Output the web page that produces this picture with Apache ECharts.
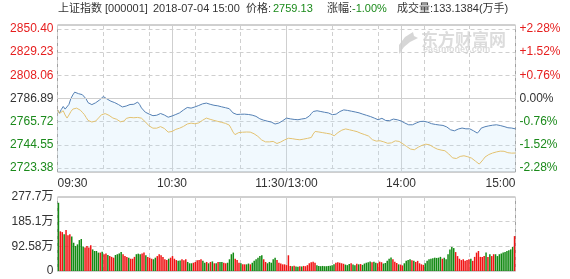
<!DOCTYPE html>
<html><head><meta charset="utf-8">
<script src="https://cdn.jsdelivr.net/npm/echarts@6/dist/echarts.min.js"></script>
<style>html,body{margin:0;padding:0;background:#fff}#c{width:570px;height:279px}</style>
</head><body><div id="c"></div>
<script>
const prevClose = 2786.89;
const priceTicks = [2723.38, 2744.55, 2765.72, 2786.89, 2808.06, 2829.23, 2850.40];
const volTicks = [0, 92.58, 185.1, 277.7];
const timeLabels = ['09:30', '10:30', '11:30/13:00', '14:00', '15:00'];

const price = [
2776.6,2773.6,2776.9,2779.6,2777.2,2775.9,2781.5,2786.8,2790.1,2792.7,
2792.1,2791.3,2790.8,2790.4,2789.8,2786.5,2783.1,2781.6,2781.3,2782.2,
2783.0,2784.4,2785.5,2787.2,2788.7,2787.6,2786.4,2785.5,2784.4,2783.6,
2783.1,2782.6,2781.3,2780.1,2779.2,2778.7,2780.0,2781.7,2781.4,2781.0,
2781.6,2782.7,2783.6,2781.5,2778.3,2776.5,2774.4,2773.2,2772.7,2772.1,
2771.2,2770.5,2771.6,2772.6,2773.2,2773.5,2771.8,2770.7,2769.8,2769.0,
2770.9,2772.1,2772.3,2772.6,2773.8,2775.0,2776.4,2778.1,2778.7,2778.4,
2778.1,2778.6,2779.2,2779.6,2780.5,2781.4,2782.0,2782.4,2782.7,2782.2,
2781.6,2781.0,2780.7,2780.5,2780.2,2779.7,2779.3,2778.9,2778.5,2778.1,
2777.6,2775.8,2773.7,2772.0,2772.3,2772.6,2772.5,2772.7,2772.6,2772.4,
2772.3,2772.1,2771.7,2771.2,2770.6,2769.6,2768.4,2767.5,2767.1,2766.6,
2766.2,2765.8,2765.4,2764.5,2763.6,2762.9,2764.5,2765.8,2766.6,2767.4,
2769.0,2768.6,2768.3,2768.1,2767.8,2767.6,2767.5,2767.9,2768.2,2768.5,
2768.7,2769.0,2770.9,2773.1,2775.0,2775.5,2775.7,2775.4,2775.0,2774.5,
2774.3,2774.0,2773.7,2773.0,2772.1,2771.4,2772.6,2774.0,2775.0,2775.8,
2776.5,2776.4,2776.0,2775.7,2775.3,2775.0,2774.6,2774.3,2773.8,2773.2,
2772.6,2772.1,2771.5,2771.0,2770.4,2769.8,2769.0,2768.3,2767.5,2768.1,
2768.8,2767.9,2766.8,2765.9,2766.7,2767.6,2768.1,2767.8,2767.5,2767.0,
2766.4,2765.8,2764.5,2763.3,2762.9,2762.8,2762.9,2763.6,2764.5,2765.3,
2765.9,2766.4,2766.1,2765.7,2765.3,2764.6,2763.9,2763.5,2763.2,2762.9,
2762.7,2762.5,2762.3,2761.6,2760.9,2759.8,2758.3,2756.9,2757.4,2758.3,
2759.0,2759.6,2759.9,2759.5,2759.2,2759.1,2759.2,2758.9,2757.4,2755.9,
2755.3,2757.2,2759.8,2760.4,2761.1,2761.5,2761.9,2762.3,2762.5,2762.7,
2762.9,2762.6,2762.2,2761.8,2761.3,2760.5,2760.2,2760.0,2759.9,2759.6,
2759.13];

const leadLine = [
2776.6,2773.2,2774.1,2775.7,2771.8,2769.0,2771.8,2774.9,2777.2,2778.7,
2778.1,2777.3,2776.2,2774.3,2772.4,2769.6,2766.9,2765.8,2765.4,2765.8,
2766.3,2767.8,2770.0,2772.0,2773.6,2773.1,2772.4,2771.5,2770.3,2769.1,
2768.4,2767.9,2767.3,2765.6,2764.6,2766.4,2768.7,2769.4,2769.6,2769.6,
2769.3,2769.0,2769.6,2770.4,2768.9,2767.3,2765.6,2763.8,2761.9,2760.7,
2759.8,2759.2,2759.8,2760.5,2761.2,2760.7,2759.5,2758.3,2756.2,2754.7,
2756.8,2758.4,2758.7,2759.0,2759.8,2760.6,2761.4,2762.6,2763.6,2764.0,
2764.4,2764.2,2763.8,2763.5,2764.6,2766.0,2767.0,2768.1,2769.0,2768.4,
2767.9,2767.4,2766.9,2766.4,2766.0,2765.6,2765.1,2764.7,2764.2,2763.4,
2762.6,2759.6,2756.2,2753.9,2755.0,2755.8,2756.0,2756.1,2756.2,2756.3,
2756.2,2756.2,2755.8,2754.7,2753.5,2752.3,2750.6,2749.0,2747.7,2747.3,
2747.1,2747.3,2747.5,2747.7,2746.8,2745.8,2745.6,2747.2,2748.2,2749.1,
2750.8,2750.6,2750.4,2750.2,2749.9,2749.6,2749.3,2749.2,2749.5,2749.8,
2750.1,2750.5,2751.0,2751.3,2754.5,2756.8,2756.6,2756.3,2756.0,2755.7,
2755.4,2755.1,2754.9,2754.5,2753.6,2752.9,2754.4,2755.8,2756.8,2758.0,
2759.0,2759.1,2758.7,2758.3,2757.9,2757.5,2757.1,2756.6,2755.9,2755.1,
2754.5,2753.9,2753.2,2752.6,2751.0,2749.3,2747.9,2748.0,2748.2,2748.3,
2747.8,2747.3,2746.7,2746.0,2745.3,2746.4,2747.6,2748.2,2747.9,2747.7,
2746.6,2745.5,2744.4,2743.0,2741.6,2740.7,2740.4,2740.1,2741.2,2742.4,
2743.1,2744.1,2745.1,2745.2,2744.9,2744.6,2743.6,2742.4,2741.4,2740.7,
2740.1,2739.8,2739.5,2739.2,2737.9,2736.3,2734.6,2732.7,2731.1,2732.1,
2733.3,2734.0,2734.3,2734.6,2734.2,2733.7,2733.1,2732.4,2731.4,2729.7,
2728.2,2727.0,2728.8,2731.0,2733.4,2734.6,2735.7,2736.5,2737.1,2737.6,
2738.1,2738.5,2738.8,2739.2,2738.7,2738.0,2737.4,2737.1,2737.0,2737.1,
2737.1];

const volume = [
256,149,146,138,154,134,138,129,106,94,
100,116,120,92,88,94,88,97,81,75,
75,69,69,72,63,66,60,56,53,50,
60,63,66,71,63,56,53,50,46,46,
53,63,65,63,66,69,59,53,50,46,
44,50,56,63,59,53,44,41,46,50,
56,46,41,38,39,44,40,44,34,29,
29,31,34,40,41,44,38,31,34,29,
34,36,29,29,34,34,34,31,29,31,
44,63,69,46,41,31,29,25,25,25,
28,25,31,38,44,50,56,59,44,34,
29,34,31,44,50,41,31,28,25,25,
22,59,19,18,20,17,16,18,17,19,
18,22,29,33,35,31,22,19,18,19,
18,18,19,20,22,25,31,33,31,29,
27,24,22,26,29,24,22,27,25,26,
23,28,31,33,36,33,35,31,29,35,
33,28,30,38,46,51,44,35,30,25,
24,21,29,38,41,44,40,38,34,38,
29,25,23,29,38,44,46,48,50,49,
50,53,46,50,44,63,81,90,86,71,
56,46,41,44,38,41,44,46,38,53,
69,75,53,53,56,69,53,63,56,63,
63,56,63,66,69,71,75,78,81,90,
131];

const volUp = [
0,1,1,0,1,1,1,0,0,0,
0,0,0,0,1,1,1,1,0,0,
0,0,1,0,1,1,0,1,1,1,
0,0,0,0,1,1,1,0,1,1,
1,0,0,0,1,1,0,1,1,1,
0,0,1,1,1,1,1,1,0,1,
1,1,1,0,0,1,1,1,0,0,
0,1,1,1,1,1,0,0,1,0,
1,0,1,0,1,0,0,1,1,0,
0,0,0,1,1,1,0,1,1,0,
0,1,0,0,0,0,0,0,1,1,
0,0,0,0,0,1,1,1,1,1,
1,1,1,0,1,0,0,1,0,1,
1,1,1,1,1,1,0,0,0,0,
0,0,0,0,0,0,1,1,1,1,
1,0,0,0,1,0,0,1,0,1,
0,0,0,0,0,1,0,0,1,1,
1,0,0,0,0,0,1,1,1,0,
1,1,0,0,0,0,1,0,1,1,
1,1,1,0,0,0,0,0,0,0,
0,0,1,0,0,0,0,0,0,1,
1,1,1,1,1,1,1,0,1,1,
1,1,1,1,1,0,1,0,1,1,
0,0,0,0,0,0,0,0,0,0,
1];

function pad2(n) { return (n < 10 ? '0' : '') + n; }
const times = [];
for (let t = 9 * 60 + 30; t <= 11 * 60 + 30; t++) times.push(pad2(Math.floor(t / 60)) + ':' + pad2(t % 60));
for (let t = 13 * 60 + 1; t <= 15 * 60; t++) times.push(pad2(Math.floor(t / 60)) + ':' + pad2(t % 60));

const RED = '#e61e1e', GREEN = '#1b8a1b', TXT = '#333';
const FONT = '"Liberation Sans", Arial, "Noto Sans CJK SC", sans-serif';
const pmin = priceTicks[0] - 3.6, pmax = priceTicks[priceTicks.length - 1] + 3.6;
const dashed = { color: '#cfcfcf', type: [4, 3], width: 1 };
const solid = { color: '#cfcfcf', type: 'solid', width: 1 };

function catAxis(grid, extra) {
  return Object.assign({
    type: 'category', gridIndex: grid, data: times, boundaryGap: false,
    axisLine: { show: false }, axisTick: { show: false }, axisLabel: { show: false },
    splitLine: { show: false }
  }, extra);
}

const chart = echarts.init(document.getElementById('c'), null, { renderer: 'canvas' });
chart.setOption({
  animation: false,
  textStyle: { fontFamily: FONT },
  grid: [
    { left: 57.5, right: 54.5, top: 25, height: 147, show: true, borderColor: '#a0a0a0', borderWidth: 1, backgroundColor: 'transparent', outerBoundsMode: 'none' },
    { left: 57.5, right: 54.5, top: 197, height: 74, show: true, borderColor: '#a0a0a0', borderWidth: 1, backgroundColor: 'transparent', outerBoundsMode: 'none' }
  ],
  xAxis: [
    catAxis(0, {
      position: 'bottom',
      axisLabel: {
        show: true, interval: (i) => i % 60 === 0, margin: 6, fontSize: 12, color: TXT, fontFamily: FONT,
        formatter: (v, i) => timeLabels[i / 60], alignMinLabel: 'left', alignMaxLabel: 'right'
      },
      splitLine: { show: true, interval: (i) => i % 24 === 0, lineStyle: dashed }
    }),
    catAxis(0, { position: 'top', splitLine: { show: true, interval: (i) => i % 60 === 0 && i > 0 && i < 240, lineStyle: solid } }),
    catAxis(1, { position: 'bottom', boundaryGap: true }),
    catAxis(1, { position: 'bottom', splitLine: { show: true, interval: (i) => i % 24 === 0, lineStyle: dashed } }),
    catAxis(1, { position: 'top', splitLine: { show: true, interval: (i) => i % 60 === 0 && i > 0 && i < 240, lineStyle: solid } })
  ],
  yAxis: [
    {
      type: 'value', gridIndex: 0, min: pmin, max: pmax, position: 'left',
      axisLine: { show: false }, axisTick: { show: false, customValues: priceTicks },
      axisLabel: {
        customValues: priceTicks, margin: 4, fontSize: 12, fontFamily: FONT,
        formatter: (v) => Number(v).toFixed(2),
        color: (v) => { v = parseFloat(v); return v > prevClose + 0.001 ? RED : (v < prevClose - 0.001 ? GREEN : TXT); }
      },
      splitLine: { show: true, lineStyle: dashed }
    },
    {
      type: 'value', gridIndex: 0, min: pmin, max: pmax, position: 'right',
      axisLine: { show: false }, axisTick: { show: false, customValues: priceTicks },
      axisLabel: {
        customValues: priceTicks, margin: 4, fontSize: 12, fontFamily: FONT,
        formatter: (v) => { const p = (Number(v) / prevClose - 1) * 100; const s = p.toFixed(2); return (p > 0.001 ? '+' : '') + (Math.abs(p) < 0.001 ? '0.00' : s) + '%'; },
        color: (v) => { v = parseFloat(v); return v > prevClose + 0.001 ? RED : (v < prevClose - 0.001 ? GREEN : TXT); }
      },
      splitLine: { show: false }
    },
    {
      type: 'value', gridIndex: 1, min: 0, max: volTicks[volTicks.length - 1], position: 'left',
      axisLine: { show: false }, axisTick: { show: false, customValues: volTicks },
      axisLabel: {
        customValues: volTicks, margin: 4, fontSize: 12, color: TXT, fontFamily: FONT,
        formatter: (v) => Number(v) === 0 ? '0' : v + '万'
      },
      splitLine: { show: true, lineStyle: dashed }
    }
  ],
  series: [
    {
      type: 'line', xAxisIndex: 0, yAxisIndex: 0, data: price, symbol: 'none', silent: true,
      lineStyle: { color: '#5580b4', width: 1 },
      areaStyle: { color: 'rgba(190,225,250,0.3)', origin: 'start' },
      markLine: {
        silent: true, symbol: 'none', label: { show: false },
        lineStyle: { color: '#cfcfcf', type: 'solid', width: 1 },
        data: [{ yAxis: prevClose }]
      },
      z: 3
    },
    {
      type: 'line', xAxisIndex: 0, yAxisIndex: 0, data: leadLine, symbol: 'none', silent: true,
      lineStyle: { color: '#e3c271', width: 1 }, z: 4
    },
    {
      type: 'bar', xAxisIndex: 2, yAxisIndex: 2, barWidth: 1.5, silent: true,
      data: volume.map((v, i) => ({ value: v, itemStyle: { color: volUp[i] ? '#f01414' : '#138a13' } }))
    }
  ],
  graphic: [
    { type: 'text', x: 58, y: 9, style: { text: '上证指数 [000001]', font: '11px ' + FONT, fill: TXT, textVerticalAlign: 'middle' } },
    { type: 'text', x: 153, y: 9, style: { text: '2018-07-04 15:00', font: '11px ' + FONT, fill: TXT, textVerticalAlign: 'middle' } },
    { type: 'text', x: 246, y: 9, style: { text: '价格:', font: '11px ' + FONT, fill: TXT, textVerticalAlign: 'middle' } },
    { type: 'text', x: 273, y: 9, style: { text: '2759.13', font: '11px ' + FONT, fill: GREEN, textVerticalAlign: 'middle' } },
    { type: 'text', x: 327, y: 9, style: { text: '涨幅:', font: '11px ' + FONT, fill: TXT, textVerticalAlign: 'middle' } },
    { type: 'text', x: 352, y: 9, style: { text: '-1.00%', font: '11px ' + FONT, fill: GREEN, textVerticalAlign: 'middle' } },
    { type: 'text', x: 397, y: 9, style: { text: '成交量:133.1384(万手)', font: '11px ' + FONT, fill: TXT, textVerticalAlign: 'middle' } },
    { type: 'polygon', shape: { points: [[413, 32], [405, 37], [399, 45], [399, 54], [404, 47], [410, 42], [418, 38], [414, 36]] }, style: { fill: '#d6d6d6' }, z: 0 },
    { type: 'text', x: 421, y: 40, style: { text: '东方财富网', font: 'bold 17px "Noto Sans CJK SC", sans-serif', fill: '#dcdcdc', textVerticalAlign: 'middle' }, z: 0 },
    { type: 'text', x: 423, y: 50, style: { text: 'eastmoney.com', font: 'bold 9px ' + FONT, fill: '#dcdcdc', textVerticalAlign: 'middle' }, z: 0 }
  ]
});
</script>
</body></html>
